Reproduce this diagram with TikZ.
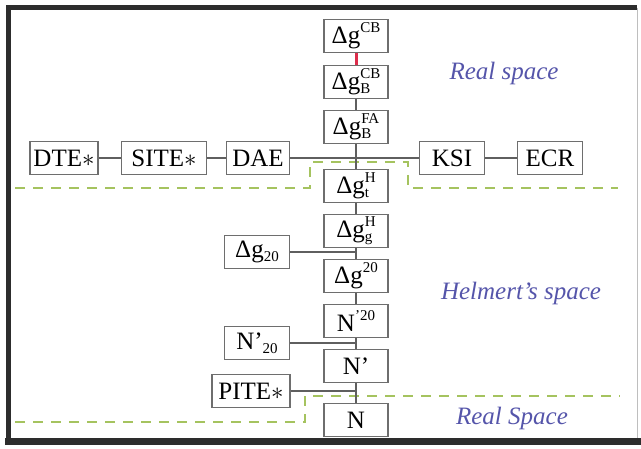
\documentclass[tikz,border=0pt]{standalone}
\usepackage{fontspec}
\setmainfont{Liberation Serif}

\definecolor{boxgray}{RGB}{110,110,110}
\definecolor{linegray}{RGB}{95,95,95}
\definecolor{linkred}{RGB}{220,45,75}
\definecolor{zonegreen}{RGB}{165,195,95}
\definecolor{labelblue}{RGB}{85,85,170}
\definecolor{framedark}{RGB}{45,45,45}
\definecolor{framelight}{RGB}{190,190,190}

% small raised / lowered indices
\newcommand{\idxsize}{\fontsize{15}{15}\selectfont}
\newcommand{\upidx}[1]{\raisebox{11pt}{\idxsize #1}}
\newcommand{\lowidx}[1]{\raisebox{-4pt}{\idxsize #1}}
\newcommand{\bothidx}[2]{\rlap{\lowidx{#1}}\upidx{#2}}

\begin{document}
\begin{tikzpicture}[
    x=1pt, y=-1pt,
    every node/.style={font=\fontsize{25}{30}\selectfont},
    box/.style={draw=boxgray, fill=white, line width=1.4pt, inner sep=0pt,
                minimum width=64pt, minimum height=33pt},
    link/.style={draw=linegray, line width=1.1pt},
    zone/.style={draw=zonegreen, line width=2.4pt, dash pattern=on 10pt off 8pt},
    spacelabel/.style={text=labelblue, font=\fontsize{25}{30}\selectfont\itshape}
]

\useasboundingbox (0,0) rectangle (641,449);

% ================= Frame =================

\draw[framedark, line width=5pt] (8,440) -- (8,7.5) -- (637,7.5);
\draw[framedark, line width=7pt] (5,442) -- (641,442);
\draw[framelight, line width=1pt] (637,8) -- (637,438);

% ================= Zone boundaries =================

\draw[zone] (15,188) -- (310,188) -- (310,162) -- (408,162) -- (408,188) -- (618,188);
\draw[zone] (15,422) -- (305,422) -- (305,396) -- (620,396);

% ================= Central column =================

\node[box] (dgCB)     at (356,36)  {Δg\upidx{CB}};
\node[box] (dgBCB)    at (356,82)  {Δg\bothidx{B}{CB}};
\node[box] (dgBFA)    at (356,127) {Δg\bothidx{B}{FA}};
\node[box] (dgtH)     at (356,186) {Δg\bothidx{t}{H}};
\node[box] (dggH)     at (356,231) {Δg\bothidx{g}{H}};
\node[box] (dgtwenty) at (356,276) {Δg\upidx{20}};
\node[box] (Ntwenty)  at (356,321) {N\upidx{’20}};
\node[box] (Nprime)   at (356,366) {N’};
\node[box] (Nfinal)   at (356,420) {N};

\draw[linkred, line width=3pt] (dgCB) -- (dgBCB);
\draw[link] (dgBCB) -- (dgBFA) -- (dgtH) -- (dggH) -- (dgtwenty)
            -- (Ntwenty) -- (Nprime) -- (Nfinal);

% ================= Terrain row =================

\node[box, minimum width=68pt] (dte)  at (64,158)  {DTE$\ast$};
\node[box, minimum width=85pt] (site) at (164,158) {SITE$\ast$};
\node[box, minimum width=63pt] (dae)  at (258,158) {DAE};
\node[box, minimum width=65pt] (ksi)  at (452,158) {KSI};
\node[box, minimum width=65pt] (ecr)  at (550,158) {ECR};

\draw[link] (dte) -- (site);
\draw[link] (site) -- (dae);
\draw[link] (dae) -- (ksi);
\draw[link] (ksi) -- (ecr);

% ================= Side inputs =================

\node[box, minimum width=65pt] (dgsub) at (257,252) {Δg\lowidx{20}};
\node[box, minimum width=65pt] (Nsub)  at (257,343) {N’\lowidx{20}};
\node[box, minimum width=78pt] (pite)  at (251,391) {PITE$\ast$};

\coordinate (dgsubjoin) at (dgsub -| dggH);
\coordinate (Nsubjoin)  at (Nsub -| Nprime);
\coordinate (pitejoin)  at (pite -| Nfinal);

\draw[link] (dgsub) -- (dgsubjoin);
\draw[link] (Nsub) -- (Nsubjoin);
\draw[link] (pite) -- (pitejoin);

% ================= Space labels =================

\node[spacelabel] (realtop)  at (504,73)  {Real space};
\node[spacelabel] (helmert)  at (521,293) {Helmert’s space};
\node[spacelabel] (realbot)  at (512,418) {Real Space};

\end{tikzpicture}
\end{document}
